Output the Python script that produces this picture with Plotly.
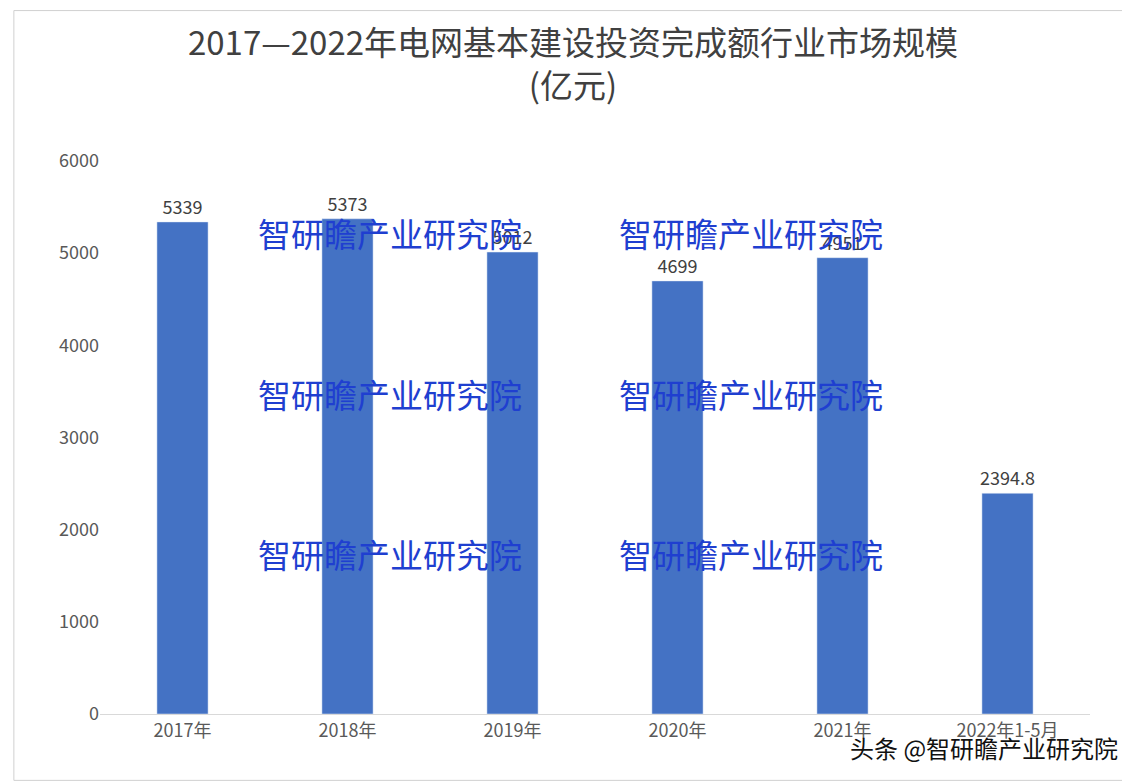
import plotly.graph_objects as go

years = ["2017年", "2018年", "2019年", "2020年", "2021年", "2022年1-5月"]
values = [5339, 5373, 5012, 4699, 4951, 2394.8]
labels = ["5339", "5373", "5012", "4699", "4951", "2394.8"]
y_ticks = [0, 1000, 2000, 3000, 4000, 5000, 6000]

font = "Noto Sans CJK SC"

bar = go.Bar(x=years, y=values, text=labels, textposition="outside", constraintext="none",
             textfont=dict(size=18, color="#404040", family=font),
             marker=dict(color="#4472c4"), width=0.31, cliponaxis=False)

fig = go.Figure(data=[bar])
fig.update_layout(
    width=1130, height=784,
    paper_bgcolor="white", plot_bgcolor="white",
    margin=dict(l=92, r=48, t=153, b=78),
    title=dict(text="2017—2022年电网基本建设投资完成额行业市场规模<br>(亿元)",
               x=0.5, y=0.94, yref="container", xanchor="center", yanchor="top",
               font=dict(size=33, color="#404040", family=font)),
    font=dict(family=font),
    showlegend=False,
    shapes=[dict(type="rect", xref="paper", yref="paper", x0=-0.087, x1=1.036, y0=-0.12, y1=1.272,
                 line=dict(color="#d0d0d0", width=1))],
)
fig.update_xaxes(showline=True, linecolor="#d9d9d9", ticks="",
                 tickfont=dict(size=18, color="#595959", family=font))
fig.update_yaxes(range=[0, 6000], tickvals=y_ticks, showgrid=False, zeroline=False,
                 tickfont=dict(size=18, color="#595959", family=font))

# watermarks
for wx in [0.293, 0.658]:
    for wy in [0.87, 0.579, 0.289]:
        fig.add_annotation(text="智研瞻产业研究院", xref="paper", yref="paper", x=wx, y=wy,
                           xanchor="center", yanchor="middle",
                           showarrow=False, font=dict(size=33, color="#1f3fd0", family=font))
fig.add_annotation(text="头条 @智研瞻产业研究院", xref="paper", yref="paper", x=1.03, y=-0.06,
                   xanchor="right", yanchor="middle", showarrow=False,
                   font=dict(size=24, color="#111111", family=font))

fig.write_html("out.html")
